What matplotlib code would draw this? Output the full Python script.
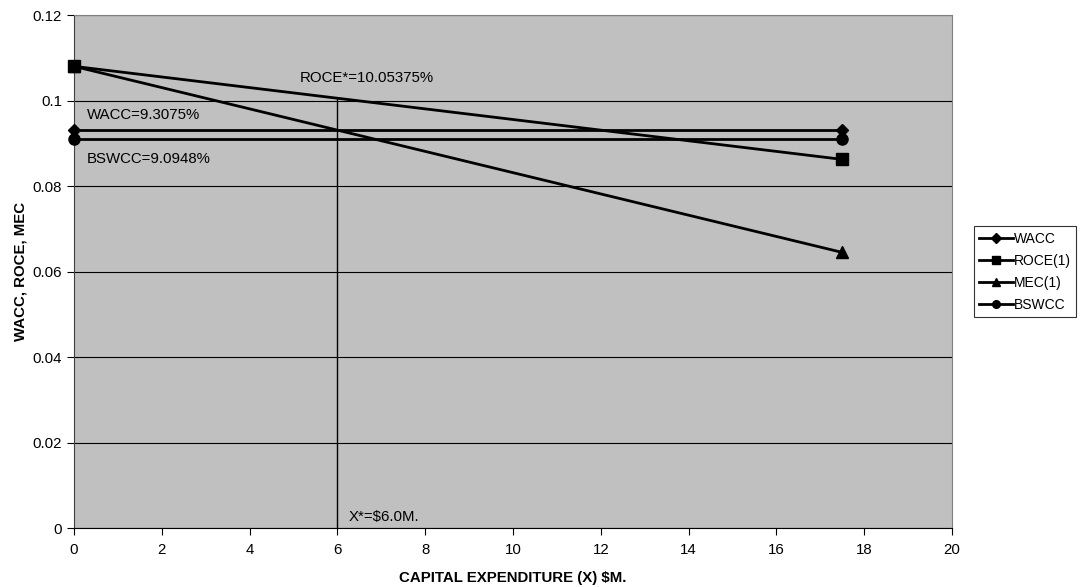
import matplotlib.pyplot as plt

plt.rcParams['font.family'] = ['Liberation Sans', 'DejaVu Sans']

# capital expenditure ($M) at the two ends of each series
x = [0, 17.5]
wacc = [0.093075, 0.093075]
roce = [0.108, 0.08623]
mec = [0.108, 0.06447]
bswcc = [0.090948, 0.090948]

# optimum point
x_star = 6.0
roce_star = 0.1005375

fig = plt.figure(figsize=(10.8, 5.87), dpi=100)
ax = fig.add_axes([0.0685, 0.1005, 0.813, 0.8739])
ax.set_facecolor('#C0C0C0')

kw = dict(color='black', lw=2, clip_on=False, zorder=3)
ax.plot(x, wacc, marker='D', ms=6.5, label='WACC', **kw)
ax.plot(x, roce, marker='s', ms=8, label='ROCE(1)', **kw)
ax.plot(x, mec, marker='^', ms=8, label='MEC(1)', **kw)
ax.plot(x, bswcc, marker='o', ms=8, label='BSWCC', **kw)

# vertical line at X*
ax.plot([x_star, x_star], [0, roce_star], color='black', lw=1, zorder=2)

fs = 10.8
ax.text(5.15, 0.1043, 'ROCE*=10.05375%', fontsize=fs)
ax.text(0.3, 0.0957, 'WACC=9.3075%', fontsize=fs)
ax.text(0.3, 0.0854, 'BSWCC=9.0948%', fontsize=fs)
ax.text(6.26, 0.0016, 'X*=$6.0M.', fontsize=fs)

ax.set_xlim(0, 20)
ax.set_ylim(0, 0.12)
ax.set_xticks(range(0, 21, 2))
ax.set_yticks([0, 0.02, 0.04, 0.06, 0.08, 0.1, 0.12])
ax.set_yticklabels(['0', '0.02', '0.04', '0.06', '0.08', '0.1', '0.12'])
ax.grid(axis='y', color='black', lw=0.8)
ax.set_axisbelow(True)
ax.tick_params(labelsize=fs, direction='out', length=5, color='black')
ax.tick_params(axis='x', pad=6)

for s in ['top', 'right']:
    ax.spines[s].set_color('#808080')
ax.spines['left'].set_color('#404040')
ax.spines['bottom'].set_color('black')

ax.set_xlabel('CAPITAL EXPENDITURE (X) $M.', fontsize=fs, fontweight='bold', labelpad=10)
ax.set_ylabel('WACC, ROCE, MEC', fontsize=fs, fontweight='bold', labelpad=4)

leg = ax.legend(loc='center left', bbox_to_anchor=(0.9015, 0.437, 0.1, 0.2), bbox_transform=fig.transFigure,
                fontsize=10, frameon=True, fancybox=False, edgecolor='black',
                handlelength=2.4, handletextpad=0.1, borderpad=0.4, labelspacing=0.58, borderaxespad=0)
leg.get_frame().set_linewidth(0.8)
for h in leg.legend_handles:
    h.set_markersize(5.5)

fig.savefig('out.png')
